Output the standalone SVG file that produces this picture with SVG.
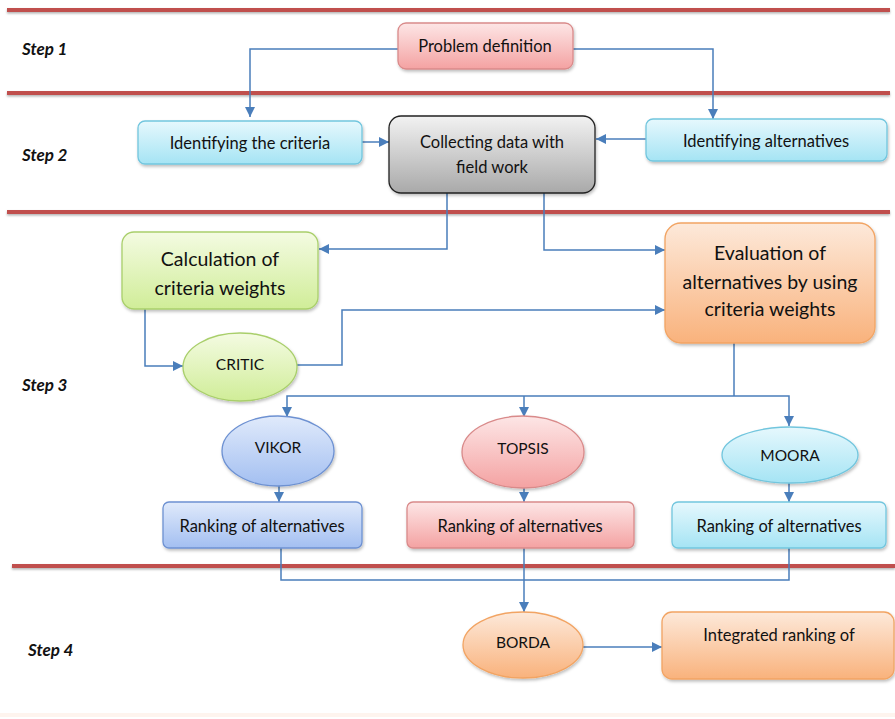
<svg xmlns="http://www.w3.org/2000/svg" width="895" height="719" viewBox="0 0 895 719">
<defs>
<linearGradient id="gPink" x1="0" y1="0" x2="0" y2="1"><stop offset="0" stop-color="#fde6e6"/><stop offset="1" stop-color="#f4a2a2"/></linearGradient>
<linearGradient id="gCyan" x1="0" y1="0" x2="0" y2="1"><stop offset="0" stop-color="#e6f8fd"/><stop offset="1" stop-color="#a5e4f4"/></linearGradient>
<linearGradient id="gGray" x1="0" y1="0" x2="0" y2="1"><stop offset="0" stop-color="#f2f2f2"/><stop offset="1" stop-color="#a9a9a9"/></linearGradient>
<linearGradient id="gGreen" x1="0" y1="0" x2="0" y2="1"><stop offset="0" stop-color="#f4fbe2"/><stop offset="1" stop-color="#d0ed98"/></linearGradient>
<linearGradient id="gOrange" x1="0" y1="0" x2="0" y2="1"><stop offset="0" stop-color="#fde9da"/><stop offset="1" stop-color="#f9b27c"/></linearGradient>
<linearGradient id="gBlue" x1="0" y1="0" x2="0" y2="1"><stop offset="0" stop-color="#e0eafb"/><stop offset="1" stop-color="#a3bff1"/></linearGradient>
<filter id="sh" x="-10%" y="-10%" width="130%" height="140%"><feDropShadow dx="1" dy="2" stdDeviation="1.5" flood-color="#000" flood-opacity="0.25"/></filter>
<filter id="shl" filterUnits="userSpaceOnUse" x="0" y="0" width="895" height="719"><feDropShadow dx="0" dy="1.5" stdDeviation="1" flood-color="#000" flood-opacity="0.3"/></filter>
<marker id="ar" viewBox="0 0 10 10" refX="10" refY="5" markerWidth="10" markerHeight="10" markerUnits="userSpaceOnUse" orient="auto"><path d="M0,0 L10,5 L0,10 z" fill="#4a7ebb"/></marker>
</defs>
<style>
.sep{fill:#c0504d;filter:url(#shl)}
.step{font-family:Lato,"Open Sans",sans-serif;font-weight:bold;font-style:italic;font-size:17px;fill:#111}
.t{font-family:Lato,"Open Sans",sans-serif;font-size:16.5px;fill:#111;text-anchor:middle;dominant-baseline:central}
.te{font-family:Lato,"Open Sans",sans-serif;font-size:15.5px;fill:#111;text-anchor:middle;dominant-baseline:central}
.tb{font-family:Lato,"Open Sans",sans-serif;font-size:19.5px;fill:#111;text-anchor:middle;dominant-baseline:central}
.c{fill:none;stroke:#4a7ebb;stroke-width:1.5}
.ca{fill:none;stroke:#4a7ebb;stroke-width:1.5;marker-end:url(#ar)}
.n{filter:url(#sh);stroke-width:1.3}
</style>
<rect width="895" height="719" fill="#fff"/>
<rect x="0" y="713" width="895" height="4" fill="#fef4ee"/>
<g id="separators">
<rect class="sep" x="7" y="8" width="883" height="4"/>
<rect class="sep" x="7" y="91" width="883" height="4"/>
<rect class="sep" x="7" y="210" width="883" height="4"/>
<rect class="sep" x="12" y="564" width="883" height="4"/>
</g>
<g id="steps">
<text class="step" x="22" y="55">Step 1</text>
<text class="step" x="22" y="161">Step 2</text>
<text class="step" x="22" y="391">Step 3</text>
<text class="step" x="28" y="656">Step 4</text>
</g>
<g id="connectors">
<polyline class="ca" points="398,49 250,49 250,117"/>
<polyline class="ca" points="573,49 713,49 713,119"/>
<line class="ca" x1="362" y1="142" x2="389" y2="142"/>
<line class="ca" x1="646" y1="139" x2="596" y2="139"/>
<polyline class="ca" points="447,193 447,249 319,249"/>
<polyline class="ca" points="544,193 544,250 665,250"/>
<polyline class="ca" points="145,309 145,366 183,366"/>
<polyline class="ca" points="296,365 342,365 342,310 665,310"/>
<line class="c" x1="734" y1="343" x2="734" y2="396"/>
<polyline class="ca" points="734,396 287,396 287,417"/>
<line class="ca" x1="524" y1="396" x2="524" y2="417"/>
<polyline class="ca" points="734,396 789,396 789,426"/>
<line class="ca" x1="279" y1="486" x2="279" y2="502"/>
<line class="ca" x1="524" y1="488" x2="524" y2="502"/>
<line class="ca" x1="789" y1="483" x2="789" y2="502"/>
<polyline class="c" points="281,548 281,580 789,580 789,548"/>
<line class="ca" x1="524" y1="548" x2="524" y2="612"/>
<line class="ca" x1="583" y1="647" x2="662" y2="647"/>
</g>
<g id="problem-definition">
<rect class="n" x="398" y="23" width="175" height="46" rx="8" fill="url(#gPink)" stroke="#d98a8a"/>
<text class="t" x="485" y="46">Problem definition</text>
</g>
<g id="identifying-criteria">
<rect class="n" x="138" y="121" width="224" height="43" rx="7" fill="url(#gCyan)" stroke="#72c6de"/>
<text class="t" x="250" y="143">Identifying the criteria</text>
</g>
<g id="collecting-data">
<rect class="n" x="389" y="116" width="206" height="77" rx="12" fill="url(#gGray)" stroke="#222" stroke-width="1.5"/>
<text class="t" x="492" y="142">Collecting data with</text>
<text class="t" x="492" y="167">field work</text>
</g>
<g id="identifying-alternatives">
<rect class="n" x="646" y="119" width="241" height="42" rx="7" fill="url(#gCyan)" stroke="#72c6de"/>
<text class="t" x="766" y="141">Identifying alternatives</text>
</g>
<g id="criteria-weights">
<rect class="n" x="122" y="232" width="196" height="77" rx="12" fill="url(#gGreen)" stroke="#a9cf6b"/>
<text class="tb" x="220" y="258">Calculation of</text>
<text class="tb" x="220" y="287">criteria weights</text>
</g>
<g id="evaluation">
<rect class="n" x="665" y="223" width="210" height="120" rx="16" fill="url(#gOrange)" stroke="#f2a463"/>
<text class="tb" x="770" y="252">Evaluation of</text>
<text class="tb" x="770" y="281">alternatives by using</text>
<text class="tb" x="770" y="308">criteria weights</text>
</g>
<g id="critic">
<ellipse class="n" cx="240" cy="367" rx="57" ry="34" fill="url(#gGreen)" stroke="#a9cf6b"/>
<text class="te" x="240" y="364">CRITIC</text>
</g>
<g id="vikor">
<ellipse class="n" cx="278" cy="451" rx="56" ry="35" fill="url(#gBlue)" stroke="#6d91d2"/>
<text class="te" x="278" y="447">VIKOR</text>
</g>
<g id="topsis">
<ellipse class="n" cx="523" cy="452" rx="61" ry="36" fill="url(#gPink)" stroke="#d98a8a"/>
<text class="te" x="523" y="448">TOPSIS</text>
</g>
<g id="moora">
<ellipse class="n" cx="790" cy="455" rx="68" ry="28" fill="url(#gCyan)" stroke="#72c6de"/>
<text class="te" x="790" y="455">MOORA</text>
</g>
<g id="ranking-vikor">
<rect class="n" x="163" y="502" width="199" height="46" rx="6" fill="url(#gBlue)" stroke="#6d91d2"/>
<text class="t" x="262" y="526">Ranking of alternatives</text>
</g>
<g id="ranking-topsis">
<rect class="n" x="407" y="502" width="227" height="46" rx="6" fill="url(#gPink)" stroke="#d98a8a"/>
<text class="t" x="520" y="526">Ranking of alternatives</text>
</g>
<g id="ranking-moora">
<rect class="n" x="672" y="502" width="214" height="46" rx="6" fill="url(#gCyan)" stroke="#72c6de"/>
<text class="t" x="779" y="526">Ranking of alternatives</text>
</g>
<g id="borda">
<ellipse class="n" cx="523" cy="645" rx="60" ry="33" fill="url(#gOrange)" stroke="#f2a463"/>
<text class="te" x="523" y="642">BORDA</text>
</g>
<g id="integrated-ranking">
<rect class="n" x="662" y="612" width="232" height="67" rx="10" fill="url(#gOrange)" stroke="#f2a463"/>
<text class="t" x="779" y="635">Integrated ranking of</text>
</g>
</svg>
